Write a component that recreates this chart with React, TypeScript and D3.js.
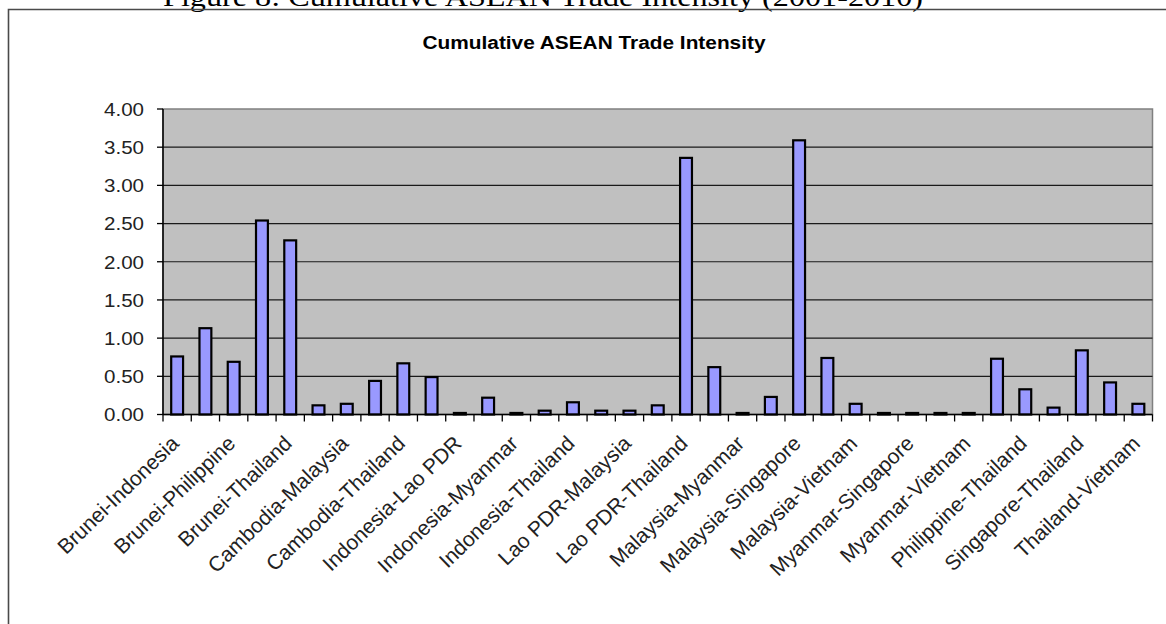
import React from "react";
import * as d3 from "d3";

// Country pairs (every other one is labelled on the axis)
const pairs: string[] = [
  "Brunei-Indonesia", "Brunei-Malaysia", "Brunei-Philippine", "Brunei-Singapore",
  "Brunei-Thailand", "Brunei-Vietnam", "Cambodia-Malaysia", "Cambodia-Singapore",
  "Cambodia-Thailand", "Cambodia-Vietnam", "Indonesia-Lao PDR", "Indonesia-Malaysia",
  "Indonesia-Myanmar", "Indonesia-Philippine", "Indonesia-Thailand", "Indonesia-Vietnam",
  "Lao PDR-Malaysia", "Lao PDR-Singapore", "Lao PDR-Thailand", "Lao PDR-Vietnam",
  "Malaysia-Myanmar", "Malaysia-Philippine", "Malaysia-Singapore", "Malaysia-Thailand",
  "Malaysia-Vietnam", "Myanmar-Philippine", "Myanmar-Singapore", "Myanmar-Thailand",
  "Myanmar-Vietnam", "Philippine-Singapore", "Philippine-Thailand", "Philippine-Vietnam",
  "Singapore-Thailand", "Singapore-Vietnam", "Thailand-Vietnam",
];

// Cumulative trade intensity index per pair
const intensity: number[] = [
  0.76, 1.13, 0.69, 2.54, 2.28, 0.12, 0.14, 0.44, 0.67, 0.49,
  0.02, 0.22, 0.02, 0.05, 0.16, 0.05, 0.05, 0.12, 3.36, 0.62,
  0.02, 0.23, 3.59, 0.74, 0.14, 0.02, 0.02, 0.02, 0.02, 0.73,
  0.33, 0.09, 0.84, 0.42, 0.14,
];

const yTicks: number[] = [0, 0.5, 1, 1.5, 2, 2.5, 3, 3.5, 4];

const figureCaption = "Figure 8: Cumulative ASEAN Trade Intensity (2001-2010)";
const chartTitle = "Cumulative ASEAN Trade Intensity";

const W = 1166;
const H = 624;
const plot = { left: 163, right: 1152.5, top: 109, bottom: 414.5 };

export default function App() {
  const x = d3
    .scaleBand<number>()
    .domain(d3.range(pairs.length))
    .range([plot.left, plot.right])
    .paddingInner(0.58)
    .paddingOuter(0.29);
  const step = (plot.right - plot.left) / pairs.length;
  const y = d3.scaleLinear().domain([0, 4]).range([plot.bottom, plot.top]);
  const fmt = d3.format(".2f");
  const sans = "Arial, 'Liberation Sans', sans-serif";

  return (
    <svg
      width={W}
      height={H}
      viewBox={`0 0 ${W} ${H}`}
      style={{ position: "absolute", left: 0, top: 0, display: "block", background: "#fff" }}
    >
      {/* document caption above the chart frame */}
      <text
        x={163}
        y={6}
        fontFamily="'Liberation Serif', 'DejaVu Serif', serif"
        fontSize={28}
        textLength={760}
        lengthAdjust="spacingAndGlyphs"
        fill="#000"
      >
        {figureCaption}
      </text>

      {/* chart frame */}
      <path d={`M8.5,${H + 2} V9.5 H${W + 2}`} fill="none" stroke="#4a4a4a" strokeWidth={1.6} />

      {/* chart title */}
      <text
        x={594}
        y={49}
        textAnchor="middle"
        fontFamily={sans}
        fontWeight="bold"
        fontSize={18}
        textLength={343}
        lengthAdjust="spacingAndGlyphs"
        fill="#000"
      >
        {chartTitle}
      </text>

      {/* plot area */}
      <rect
        x={plot.left}
        y={plot.top}
        width={plot.right - plot.left}
        height={plot.bottom - plot.top}
        fill="#c0c0c0"
        stroke="#808080"
        strokeWidth={1.5}
      />

      {/* gridlines */}
      {yTicks
        .filter((t) => t > 0 && t < 4)
        .map((t) => (
          <line
            key={`g${t}`}
            x1={plot.left}
            x2={plot.right}
            y1={y(t)}
            y2={y(t)}
            stroke="#1a1a1a"
            strokeWidth={1.2}
          />
        ))}

      {/* bars */}
      {intensity.map((v, i) => (
        <rect
          key={`b${i}`}
          x={x(i)!}
          y={y(v)}
          width={x.bandwidth()}
          height={y(0) - y(v)}
          fill="#9999ff"
          stroke="#000"
          strokeWidth={2.2}
        />
      ))}

      {/* y axis */}
      <line x1={plot.left} x2={plot.left} y1={plot.top} y2={plot.bottom} stroke="#000" strokeWidth={1.5} />
      {yTicks.map((t) => (
        <g key={`y${t}`}>
          <line x1={plot.left - 6} x2={plot.left} y1={y(t)} y2={y(t)} stroke="#000" strokeWidth={1.3} />
          <text
            x={144}
            y={y(t)}
            dy="0.36em"
            textAnchor="end"
            fontFamily={sans}
            fontSize={19}
            textLength={40}
            lengthAdjust="spacingAndGlyphs"
            fill="#222"
          >
            {fmt(t)}
          </text>
        </g>
      ))}

      {/* x axis */}
      <line x1={plot.left} x2={plot.right} y1={plot.bottom} y2={plot.bottom} stroke="#000" strokeWidth={1.5} />
      {d3.range(pairs.length + 1).map((k) => (
        <line
          key={`xt${k}`}
          x1={plot.left + k * step}
          x2={plot.left + k * step}
          y1={plot.bottom}
          y2={plot.bottom + 7}
          stroke="#000"
          strokeWidth={1.3}
        />
      ))}
      {pairs.map((p, i) =>
        i % 2 === 0 ? (
          <text
            key={`xl${i}`}
            transform={`translate(${x(i)! + x.bandwidth() / 2 + 3},${445}) rotate(-44)`}
            textAnchor="end"
            fontFamily={sans}
            fontSize={21}
            fill="#222"
          >
            {p}
          </text>
        ) : null
      )}
    </svg>
  );
}
